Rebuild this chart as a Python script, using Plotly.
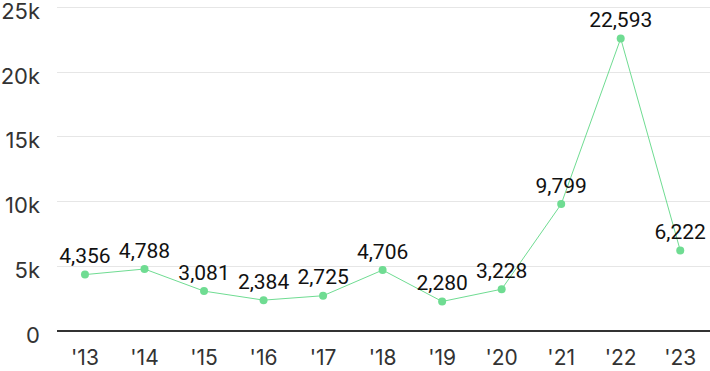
import plotly.graph_objects as go

years = ["'13", "'14", "'15", "'16", "'17", "'18", "'19", "'20", "'21", "'22", "'23"]
values = [4356, 4788, 3081, 2384, 2725, 4706, 2280, 3228, 9799, 22593, 6222]
labels = [f"{v:,}" for v in values]

green = "#6fdc92"

fig = go.Figure(go.Scatter(
    x=years, y=values, mode="lines+markers+text",
    line=dict(color=green, width=1),
    marker=dict(color=green, size=8),
    text=labels, textposition="top center",
    textfont=dict(family="Roboto", size=21, color="#111111"),
    cliponaxis=False,
))

fig.update_layout(
    width=710, height=371,
    margin=dict(l=57, r=0, t=6, b=40),
    plot_bgcolor="white", paper_bgcolor="white",
    showlegend=False,
)
fig.update_xaxes(
    type="category", range=[-0.47, 10.5], automargin=False,
    showgrid=False, showline=False, zeroline=False,
    ticks="", ticklabelstandoff=12, ticklabeloverflow="allow",
    tickfont=dict(family="Inter", size=21, color="#333333"),
)
fig.update_yaxes(
    range=[0, 25100], tickvals=[0, 5000, 10000, 15000, 20000, 25000],
    ticktext=["0", "5k", "10k", "15k", "20k", "25k"], automargin=False,
    showgrid=True, gridcolor="#e6e6e6", gridwidth=1,
    zeroline=True, zerolinecolor="#333333", zerolinewidth=1.5,
    ticks="", ticklabelstandoff=16, ticklabelshift=4, ticklabeloverflow="allow",
    tickfont=dict(family="Inter", size=22, color="#333333"),
)

fig.write_html(
    "out.html",
    config={"displayModeBar": False},
    post_script="document.body.style.margin='0';document.body.style.overflow='hidden';",
)
